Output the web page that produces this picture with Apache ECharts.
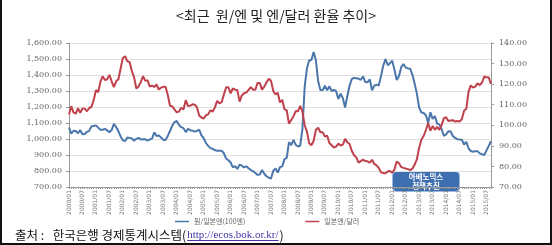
<!DOCTYPE html>
<html>
<head>
<meta charset="utf-8">
<script src="https://cdn.jsdelivr.net/npm/echarts@6/dist/echarts.min.js"></script>
<style>
  html, body { margin: 0; padding: 0; background: #fff; }
  #chart { width: 552px; height: 245px; }
</style>
</head>
<body>
<div id="chart"></div>
<script>
// 월별 축 (2000/01 ~ 2015/09)
const startYear = 2000
const endYear = 2015
const endMonth = 9
const months = []
for (let y = startYear; y <= endYear; y++) {
  for (let m = 1; m <= 12; m++) {
    if (y === endYear && m > endMonth) break
    months.push(y + '/' + (m < 10 ? '0' + m : m))
  }
}

// 원/일본엔(100엔), 월평균
const wonYen = [
  1072, 1034, 1051, 1050, 1036, 1055, 1030, 1031, 1045, 1051, 1079, 1081,
  1085, 1071, 1058, 1058, 1063, 1054, 1042, 1056, 1094, 1075, 1048, 1016,
  992, 987, 1010, 1007, 1004, 989, 1001, 1007, 997, 998, 998, 990,
  997, 1002, 1041, 1019, 1022, 1010, 994, 994, 1019, 1050, 1083, 1106,
  1113, 1087, 1074, 1068, 1043, 1063, 1055, 1052, 1046, 1050, 1058, 1023,
  1005, 975, 957, 943, 939, 931, 926, 927, 927, 911, 878, 867,
  853, 823, 831, 813, 840, 833, 822, 829, 817, 806, 799, 787,
  776, 778, 806, 783, 767, 758, 753, 801, 816, 790, 824, 829,
  874, 882, 981, 962, 995, 963, 954, 958, 1064, 1327, 1441, 1492,
  1494, 1543, 1490, 1361, 1306, 1305, 1333, 1305, 1329, 1299, 1307, 1299,
  1250, 1283, 1255, 1197, 1269, 1334, 1375, 1382, 1380, 1377, 1370, 1391,
  1356, 1355, 1372, 1304, 1334, 1340, 1334, 1393, 1458, 1499, 1461, 1474,
  1489, 1432, 1368, 1394, 1449, 1468, 1447, 1441, 1439, 1401, 1345, 1282,
  1195, 1166, 1162, 1148, 1100, 1167, 1126, 1143, 1096, 1091, 1061, 1020,
  1029, 1047, 1048, 1019, 1007, 999, 997, 996, 965, 982, 942, 925,
  920, 924, 924, 910, 905, 899, 929, 957, 987
]

// 일본엔/달러, 월평균
const yenDollar = [
  105.2, 109.3, 106.3, 105.6, 108.3, 106.1, 108.2, 108.1, 106.8, 108.4, 108.9, 112.2,
  117.1, 116.1, 121.2, 123.8, 122.0, 122.4, 124.5, 121.4, 118.6, 121.4, 122.4, 127.6,
  132.7, 133.6, 131.1, 130.8, 126.4, 123.3, 117.9, 118.9, 121.1, 123.9, 121.6, 121.9,
  118.8, 119.3, 118.6, 119.9, 117.4, 118.3, 118.7, 118.7, 114.8, 109.5, 109.2, 107.7,
  106.3, 106.7, 108.5, 107.7, 112.2, 109.4, 109.5, 110.2, 110.0, 108.8, 104.7, 103.8,
  103.3, 104.9, 105.3, 107.3, 106.6, 108.7, 111.9, 110.6, 111.2, 114.9, 118.5, 118.5,
  115.5, 117.9, 117.3, 117.1, 111.5, 114.5, 115.6, 115.9, 117.2, 118.6, 117.3, 117.3,
  120.6, 120.5, 117.3, 118.8, 120.8, 122.6, 121.6, 116.7, 115.0, 115.8, 111.1, 112.4,
  107.8, 107.2, 100.8, 102.6, 104.3, 106.9, 106.8, 109.4, 106.6, 100.0, 96.9, 91.3,
  90.3, 92.5, 97.8, 98.8, 96.6, 96.6, 94.5, 95.0, 91.4, 90.3, 89.2, 89.6,
  91.1, 90.2, 90.6, 93.4, 91.8, 90.9, 87.5, 85.4, 84.4, 81.8, 82.6, 83.3,
  82.6, 82.5, 81.8, 83.2, 81.2, 80.5, 79.3, 77.1, 76.8, 76.7, 77.5, 77.8,
  76.9, 78.5, 82.4, 81.5, 79.7, 79.3, 79.0, 78.7, 78.2, 78.9, 80.9, 83.6,
  89.1, 93.1, 94.8, 97.7, 101.1, 97.3, 99.7, 97.8, 99.2, 97.8, 100.1, 103.5,
  103.9, 102.1, 102.3, 102.5, 101.8, 102.1, 101.8, 102.9, 107.1, 108.0, 116.4, 119.4,
  118.3, 118.8, 120.4, 119.5, 120.8, 123.7, 123.3, 123.2, 120.1
]

const seriesNames = ['원/일본엔(100엔)', '일본엔/달러']

const fmtLeft = (v) => v.toFixed(2).replace(/\B(?=(\d{3})+(?!\d))/, ',')
const fmtRight = (v) => v.toFixed(2)

// 출처 문구 폭 계산 (링크를 바로 뒤에 붙이기 위해)
const srcPrefix = '출처 :   한국은행 경제통계시스템('
const srcLink = 'http://ecos.bok.or.kr/'
const srcFont = '12.5px "Noto Sans CJK KR"'
const linkFont = '11px "Liberation Serif"'
const ctx = document.createElement('canvas').getContext('2d')
ctx.font = srcFont
const prefixW = ctx.measureText(srcPrefix).width
ctx.font = linkFont
const linkW = ctx.measureText(srcLink).width
const srcX = 15
const linkX = srcX + prefixW + 1

const chart = echarts.init(document.getElementById('chart'))

const axisLabelStyle = {
  fontFamily: 'DejaVu Serif',
  fontSize: 8,
  color: '#666'
}

const option = {
  animation: false,
  grid: {
    left: 69,
    right: 61,
    top: 43,
    bottom: 58
  },
  legend: {
    data: seriesNames,
    left: 170,
    top: 213,
    icon: 'rect',
    itemWidth: 14,
    itemHeight: 1.5,
    itemGap: 60,
    textStyle: {
      fontFamily: 'Noto Sans CJK KR',
      fontSize: 7,
      color: '#666'
    }
  },
  xAxis: {
    type: 'category',
    data: months,
    boundaryGap: false,
    axisLine: { lineStyle: { color: '#9a9a9a' } },
    axisTick: {
      show: true,
      interval: 0,
      length: 2,
      lineStyle: { color: '#9a9a9a' }
    },
    axisLabel: {
      interval: 5,
      rotate: 90,
      margin: 3,
      fontFamily: 'DejaVu Sans',
      fontSize: 6,
      color: '#7a7a7a'
    }
  },
  yAxis: [
    {
      type: 'value',
      min: 700,
      max: 1600,
      interval: 100,
      axisLine: { show: true, lineStyle: { color: '#9a9a9a' } },
      axisTick: { show: true, length: 3, lineStyle: { color: '#9a9a9a' } },
      splitLine: { lineStyle: { color: '#e0e0e0' } },
      axisLabel: Object.assign({ formatter: fmtLeft, margin: 7 }, axisLabelStyle)
    },
    {
      type: 'value',
      min: 70,
      max: 140,
      interval: 10,
      axisLine: { show: true, lineStyle: { color: '#9a9a9a' } },
      axisTick: { show: true, length: 3, lineStyle: { color: '#9a9a9a' } },
      splitLine: { show: false },
      axisLabel: Object.assign({ formatter: fmtRight, margin: 8 }, axisLabelStyle)
    }
  ],
  series: [
    {
      name: seriesNames[0],
      type: 'line',
      yAxisIndex: 0,
      data: wonYen,
      showSymbol: false,
      symbol: 'none',
      itemStyle: { color: '#4a76ab' },
      lineStyle: { color: '#4a76ab', width: 2 }
    },
    {
      name: seriesNames[1],
      type: 'line',
      yAxisIndex: 1,
      data: yenDollar,
      showSymbol: false,
      symbol: 'none',
      itemStyle: { color: '#c0404c' },
      lineStyle: { color: '#c0404c', width: 2 }
    }
  ],
  graphic: [
    {
      type: 'text',
      left: 'center',
      top: 9,
      style: {
        text: '<최근  원/엔 및 엔/달러 환율 추이>',
        fontFamily: 'Noto Sans CJK KR',
        fontSize: 14,
        fill: '#222'
      }
    },
    // 아베노믹스 표시
    {
      type: 'group',
      left: 392,
      top: 171,
      children: [
        {
          type: 'rect',
          shape: { x: 0, y: 0, width: 67, height: 20, r: 4 },
          style: { fill: '#3d6eb0', stroke: '#9db8df', lineWidth: 1 }
        },
        {
          type: 'text',
          x: 33.5,
          y: 10,
          style: {
            text: '아베노믹스\n정책추진',
            fontFamily: 'Noto Sans CJK KR',
            fontSize: 7.5,
            fontWeight: 'bold',
            lineHeight: 9,
            fill: '#fff',
            align: 'center',
            verticalAlign: 'middle'
          }
        }
      ]
    },
    // 출처
    {
      type: 'text',
      x: srcX,
      y: 235,
      style: {
        text: srcPrefix,
        font: srcFont,
        fill: '#111',
        verticalAlign: 'middle'
      }
    },
    {
      type: 'text',
      x: linkX,
      y: 235,
      style: {
        text: srcLink,
        font: linkFont,
        fill: '#3f35a8',
        verticalAlign: 'middle'
      }
    },
    {
      type: 'text',
      x: linkX + linkW + 1,
      y: 235,
      style: {
        text: ')',
        font: srcFont,
        fill: '#111',
        verticalAlign: 'middle'
      }
    },
    {
      type: 'line',
      shape: { x1: linkX, y1: 240.5, x2: linkX + linkW, y2: 240.5 },
      style: { stroke: '#3f35a8', lineWidth: 1 }
    },
    // 테두리
    {
      type: 'polyline',
      shape: { points: [[1, 0], [1, 244], [551, 244], [551, 0]] },
      style: { stroke: '#111', lineWidth: 2, fill: null }
    }
  ]
}

chart.setOption(option)
</script>
</body>
</html>
